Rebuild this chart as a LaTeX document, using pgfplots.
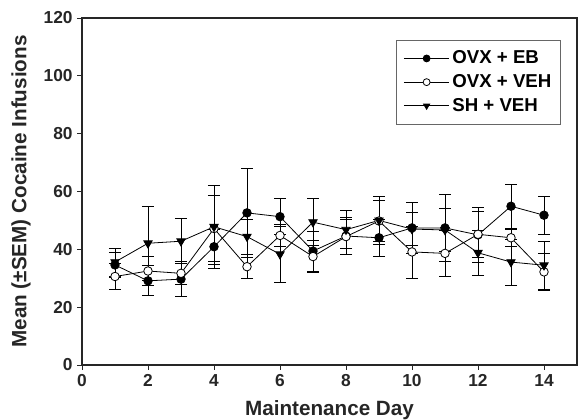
\documentclass[border=0pt]{standalone}
\usepackage{fontspec}
\setmainfont{Liberation Sans}
\usepackage{pgfplots}
\pgfplotsset{compat=1.18}
\pgfplotstableread{
x y e
1 34.6 4.2
2 29.1 5.2
3 29.7 6.0
4 40.9 6.1
5 52.6 15.5
6 51.3 6.3
7 39.4 6.9
8 44.6 6.5
9 44.0 6.5
10 47.4 8.7
11 47.4 11.6
12 45.0 9.6
13 54.9 7.7
14 51.8 6.6
}\eb
\pgfplotstableread{
x y e
1 30.6 4.6
2 32.5 5.0
3 31.7 4.0
4 47.2 11.4
5 34.0 4.1
6 44.8 3.8
7 37.5 5.5
8 44.4 6.0
9 49.8 7.2
10 39.1 9.0
11 38.6 7.8
12 45.2 8.0
13 44.0 3.0
14 32.2 6.3
}\veh
\pgfplotstableread{
x y e
1 35.6 4.8
2 42.1 12.8
3 42.8 7.8
4 47.8 14.3
5 44.4 6.0
6 38.3 9.8
7 49.4 8.2
8 46.8 6.6
9 50.0 8.4
10 47.0 5.8
11 46.7 7.3
12 38.8 7.8
13 35.6 8.0
14 34.5 8.3
}\sh
\begin{document}
\begin{tikzpicture}
\useasboundingbox (-61.5pt,-41.25pt) rectangle (372pt,273.75pt);
\begin{axis}[
  scale only axis,
  width=371.25pt, height=260.25pt,
  xmin=0, xmax=15, ymin=0, ymax=120,
  xtick={0,2,...,14}, ytick={0,20,...,120},
  tick pos=left, tick align=outside,
  major tick length=3.5pt,
  axis line style={line width=0.8pt, black!85},
  tick style={line width=0.6pt, black!85},
  /pgf/number format/assume math mode=true,
  ticklabel style={font=\fontsize{13}{15}\selectfont\bfseries, text=black!85},
  xlabel={Maintenance Day},
  ylabel={Mean (\textpm SEM) Cocaine Infusions},
  label style={font=\fontsize{15.5}{17}\selectfont\bfseries, text=black!85},
  xlabel style={at={(axis description cs:0.5,-0.13)}, anchor=center},
  ylabel style={at={(axis description cs:-0.123,0.5)}, anchor=center, rotate=0},
  clip=false,
  legend cell align=left,
  legend style={at={(axis description cs:0.968,0.937)}, anchor=north east,
    draw=black!60, line width=0.6pt, font=\fontsize{14}{16}\selectfont\bfseries,
    row sep=2.5pt, inner xsep=5pt, inner ysep=6pt,
    /tikz/every even column/.append style={column sep=8pt}},
  legend image code/.code={\draw[mark repeat=2,mark phase=2, mark size=2.6pt] plot coordinates {(0pt,0pt) (17pt,0pt) (34pt,0pt)};},
  every axis plot/.append style={line width=0.6pt, black},
  error bars/error bar style={line width=0.6pt, black},
  error bars/error mark options={rotate=90, mark size=4.5pt, line width=0.6pt, black},
]
\addplot[mark=*, mark size=3.2pt, mark options={fill=black}, error bars/.cd, y dir=both, y explicit] table[x=x, y=y, y error=e] {\eb};
\addlegendentry{OVX + EB}
\addplot[mark=*, mark size=3.2pt, mark options={fill=white}, error bars/.cd, y dir=both, y explicit] table[x=x, y=y, y error=e] {\veh};
\addlegendentry{OVX + VEH}
\addplot[mark=triangle*, mark size=3.6pt, mark options={fill=black, rotate=180}, error bars/.cd, y dir=both, y explicit] table[x=x, y=y, y error=e] {\sh};
\addlegendentry{SH + VEH}
\end{axis}
\end{tikzpicture}
\end{document}
